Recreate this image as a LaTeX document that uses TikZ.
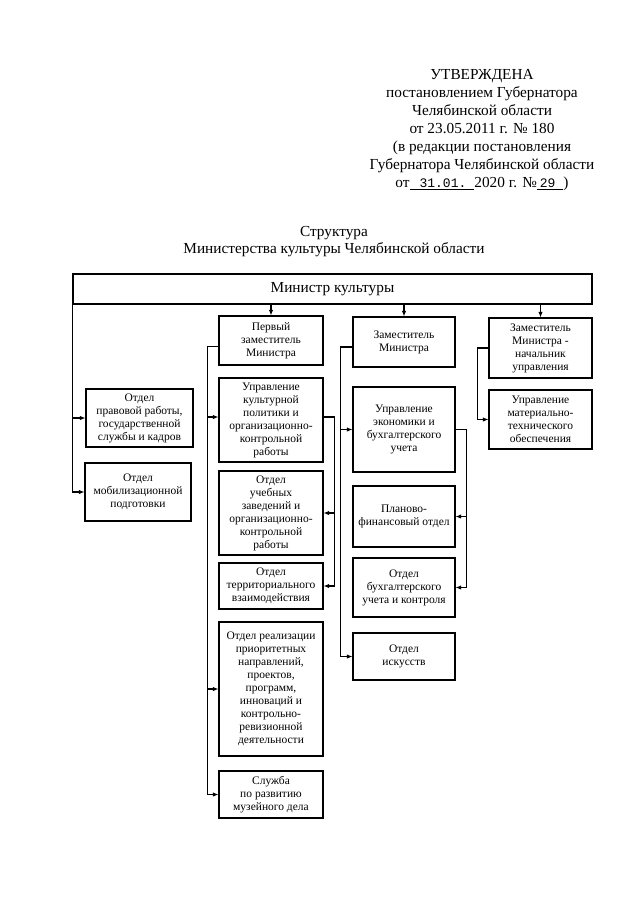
\documentclass[tikz,border=0pt]{standalone}
\usepackage{fontspec}
\setmainfont{Liberation Serif}
\setmonofont{Liberation Mono}
\usetikzlibrary{arrows.meta}

\tikzset{
  unit/.style={draw, line width=1.1pt, align=center, inner sep=1pt,
    font=\fontsize{11.5}{13}\selectfont},
  link/.style={line width=1.1pt},
  arr/.style={link, -{Latex[length=5.5pt,width=4.5pt]}},
}

\begin{document}
\begin{tikzpicture}[x=1pt,y=-1pt]
\useasboundingbox (0,0) rectangle (640,905);
\fill[white] (0,0) rectangle (640,905);

% header
\node (approval) [align=center, anchor=north, inner sep=0pt, font=\fontsize{15.3}{18}\selectfont] at (482,69)
  {УТВЕРЖДЕНА\\ постановлением Губернатора\\ Челябинской области\\ от 23.05.2011 г. № 180\\
   (в редакции постановления\\ Губернатора Челябинской области\\
   от\underline{\hspace{10pt}{\fontsize{13}{15}\selectfont\texttt{31.01.}}\hspace{8pt}}2020 г. №\underline{\hspace{3pt}{\fontsize{13}{15}\selectfont\texttt{29}}\hspace{8pt}})};

\node (title) [align=center, anchor=north, inner sep=0pt, font=\fontsize{15.3}{17}\selectfont] at (334,226)
  {Структура\\ Министерства культуры Челябинской области};

\node (minister) [unit, minimum width=519, minimum height=30, font=\fontsize{15.3}{18}\selectfont] at (332.5,289) {Министр культуры};

% left column
\node (legal) [unit, minimum width=107, minimum height=58] at (139.5,418) {Отдел\\ правовой работы,\\ государственной\\ службы и кадров};
\node (mob) [unit, minimum width=106, minimum height=58] at (138,492) {Отдел\\ мобилизационной\\ подготовки};

% first deputy
\node (first) [unit, minimum width=104, minimum height=49] at (271,340.5) {Первый\\ заместитель\\ Министра};
\node (cultpol) [unit, minimum width=104, minimum height=84] at (271,420) {Управление\\ культурной\\ политики и\\ организационно-\\ контрольной\\ работы};
\node (edu) [unit, minimum width=104, minimum height=84] at (271,513) {Отдел\\ учебных\\ заведений и\\ организационно-\\ контрольной\\ работы};
\node (terr) [unit, minimum width=104, minimum height=46] at (271,586) {Отдел\\ территориального\\ взаимодействия};
\node (prio) [unit, minimum width=104, minimum height=134] at (271,689) {Отдел реализации\\ приоритетных\\ направлений,\\ проектов,\\ программ,\\ инноваций и\\ контрольно-\\ ревизионной\\ деятельности};
\node (museum) [unit, minimum width=104, minimum height=47] at (271,794.5) {Служба\\ по развитию\\ музейного дела};

% deputy
\node (deputy) [unit, minimum width=102, minimum height=50] at (404,342) {Заместитель\\ Министра};
\node (econ) [unit, minimum width=102, minimum height=85] at (404,429.5) {Управление\\ экономики и\\ бухгалтерского\\ учета};
\node (plan) [unit, minimum width=102, minimum height=61] at (404,516.5) {Планово-\\ финансовый отдел};
\node (acc) [unit, minimum width=102, minimum height=59] at (404,587.5) {Отдел\\ бухгалтерского\\ учета и контроля};
\node (arts) [unit, minimum width=102, minimum height=47] at (404,656.5) {Отдел\\ искусств};

% deputy, head of department
\node (head) [unit, minimum width=103, minimum height=60] at (540.5,348) {Заместитель\\ Министра -\\ начальник\\ управления};
\node (supply) [unit, minimum width=103, minimum height=59] at (540.5,419.5) {Управление\\ материально-\\ технического\\ обеспечения};

% connectors from the minister
\draw [arr] (minister.south -| first.north) -- (first.north);
\draw [arr] (minister.south -| deputy.north) -- (deputy.north);
\draw [arr] (minister.south -| head.north) -- (head.north);
\draw [arr] (minister.south west) |- (legal.west);
\draw [arr] (minister.south west) |- (mob.west);

\coordinate (firstbus) at ([xshift=-11,yshift=-6]first.west);
\draw [link] ([yshift=-6]first.west) -- (firstbus);
\draw [arr] (firstbus) |- ([yshift=3]cultpol.west);
\draw [arr] (firstbus) |- (prio.west);
\draw [arr] (firstbus) |- (museum.west);

\coordinate (cultbus) at ([xshift=11,yshift=3]cultpol.east);
\draw [link] ([yshift=3]cultpol.east) -- (cultbus);
\draw [arr] (cultbus) |- (edu.east);
\draw [arr] (cultbus) |- (terr.east);

\coordinate (depbus) at ([xshift=-12,yshift=-5]deputy.west);
\draw [link] ([yshift=-5]deputy.west) -- (depbus);
\draw [arr] (depbus) |- (econ.west);
\draw [arr] (depbus) |- (arts.west);

\coordinate (econbus) at ([xshift=11]econ.east);
\draw [link] (econ.east) -- (econbus);
\draw [arr] (econbus) |- (plan.east);
\draw [arr] (econbus) |- (acc.east);

\coordinate (headbus) at ([xshift=-11]head.west);
\draw [link] (head.west) -- (headbus);
\draw [arr] (headbus) |- (supply.west);
\end{tikzpicture}
\end{document}
